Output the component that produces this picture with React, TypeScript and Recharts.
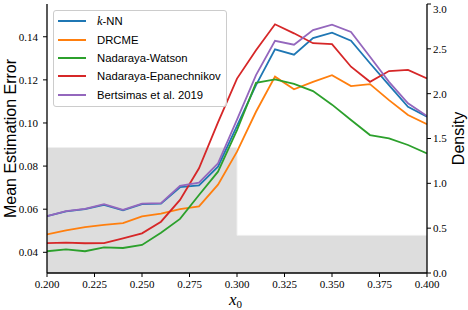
import { ComposedChart, Line, Area, XAxis, YAxis, Legend } from 'recharts'

const X0 = [0.2, 0.21, 0.22, 0.23, 0.24, 0.25, 0.26, 0.27, 0.28, 0.29, 0.3, 0.31, 0.32, 0.33, 0.34, 0.35, 0.36, 0.37, 0.38, 0.39, 0.4]
const KNN = [0.0568, 0.059, 0.06, 0.062, 0.0595, 0.0624, 0.0626, 0.0702, 0.071, 0.0797, 0.0987, 0.1176, 0.1342, 0.1317, 0.1394, 0.1419, 0.1382, 0.1277, 0.1176, 0.1075, 0.1029]
const DRCME = [0.0483, 0.0502, 0.0517, 0.0527, 0.0535, 0.0567, 0.0579, 0.06, 0.0613, 0.0714, 0.0867, 0.1052, 0.1215, 0.1156, 0.1191, 0.1222, 0.1171, 0.118, 0.1106, 0.1037, 0.0994]
const NW = [0.0405, 0.0414, 0.0405, 0.0423, 0.042, 0.0434, 0.0491, 0.0555, 0.0666, 0.0774, 0.0967, 0.1186, 0.1202, 0.1181, 0.1148, 0.1085, 0.1014, 0.0944, 0.0929, 0.0898, 0.0859]
const NE = [0.0443, 0.0445, 0.0442, 0.0443, 0.0465, 0.0488, 0.0542, 0.0643, 0.079, 0.1003, 0.1206, 0.1337, 0.1458, 0.1416, 0.137, 0.1366, 0.1261, 0.1191, 0.1241, 0.1246, 0.1207]
const BERTSIMAS = [0.0568, 0.0591, 0.0601, 0.0623, 0.0597, 0.0626, 0.0628, 0.0708, 0.0723, 0.0813, 0.1016, 0.1222, 0.1381, 0.1363, 0.1431, 0.1456, 0.1422, 0.1307, 0.1191, 0.1091, 0.1032]
const DENSITY = [1.4, 1.4, 1.4, 1.4, 1.4, 1.4, 1.4, 1.4, 1.4, 1.4, 0.42, 0.42, 0.42, 0.42, 0.42, 0.42, 0.42, 0.42, 0.42, 0.42, 0.42]

const X_TICKS = [0.2, 0.225, 0.25, 0.275, 0.3, 0.325, 0.35, 0.375, 0.4]
const Y_TICKS = [0.04, 0.06, 0.08, 0.1, 0.12, 0.14]
const D_TICKS = [0, 0.5, 1, 1.5, 2, 2.5, 3]

const SERIES = [
  { key: 'knn', name: 'k-NN', color: '#1f77b4', values: KNN },
  { key: 'drcme', name: 'DRCME', color: '#ff7f0e', values: DRCME },
  { key: 'nw', name: 'Nadaraya-Watson', color: '#2ca02c', values: NW },
  { key: 'ne', name: 'Nadaraya-Epanechnikov', color: '#d62728', values: NE },
  { key: 'bert', name: 'Bertsimas et al. 2019', color: '#9467bd', values: BERTSIMAS },
]

const data = X0.map((x, i) => {
  const row: Record<string, number> = { x, density: DENSITY[i] }
  SERIES.forEach(s => { row[s.key] = s.values[i] })
  return row
})

const serif = 'Liberation Serif'
const sans = 'Liberation Sans'

// tick renderer so the serif font is applied for sure
const makeTick = (anchor: 'middle' | 'start' | 'end', digits: number, dy: string) => (p: any) => (
  <text x={p.x} y={p.y} dy={dy} textAnchor={anchor} fontFamily={serif} fontSize={11} fill="#000">
    {Number(p.payload.value).toFixed(digits)}
  </text>
)

function LegendBox() {
  return (
    <div style={{ width: 172, height: 94, border: '1px solid #cccccc', borderRadius: 3, background: 'rgba(255,255,255,0.8)', paddingTop: 1, boxSizing: 'content-box' }}>
      {SERIES.map(s => (
        <div key={s.key} style={{ display: 'flex', alignItems: 'center', height: 18.4, fontFamily: sans, fontSize: 11.3, color: '#000' }}>
          <span style={{ width: 28, height: 2, background: s.color, marginLeft: 4, marginRight: 11 }} />
          {s.key === 'knn'
            ? <span><span style={{ fontFamily: serif, fontStyle: 'italic', fontSize: 12.5 }}>k</span>-NN</span>
            : <span>{s.name}</span>}
        </div>
      ))}
    </div>
  )
}

export default function App() {
  return (
    <div style={{ position: 'absolute', left: 0, top: 0, width: 468, height: 310, background: '#fff' }}>
      <ComposedChart width={468} height={310} data={data} margin={{ top: 4, right: 0, bottom: 0, left: 0 }}>
        <XAxis dataKey="x" type="number" domain={[0.2, 0.4]} ticks={X_TICKS} allowDataOverflow
          tick={makeTick('middle', 3, '0.71em')} height={37}
          axisLine={{ stroke: '#000', strokeWidth: 1.3 }} tickLine={{ stroke: '#000' }} tickSize={4} tickMargin={3}
          label={{ content: () => (
            <text x={229} y={305} fontFamily={serif} fontStyle="italic" fontSize={17} fill="#000">
              x<tspan fontStyle="normal" fontSize={11} dy={3}>0</tspan>
            </text>
          ) }} />
        <XAxis xAxisId="top" orientation="top" dataKey="x" type="number" domain={[0.2, 0.4]} height={0}
          tick={false} tickLine={false} axisLine={{ stroke: '#000', strokeWidth: 1.3 }} />
        <YAxis yAxisId="left" domain={[0.0304, 0.1552]} ticks={Y_TICKS} allowDataOverflow width={47}
          tick={makeTick('end', 2, '0.355em')}
          axisLine={{ stroke: '#000', strokeWidth: 1.3 }} tickLine={{ stroke: '#000' }} tickSize={4} tickMargin={5}
          label={{ content: () => (
            <text x={0} y={0} transform="translate(16,138.5) rotate(-90)" textAnchor="middle" fontFamily={sans} fontSize={16} fill="#000">Mean Estimation Error</text>
          ) }} />
        <YAxis yAxisId="right" orientation="right" domain={[0, 3]} ticks={D_TICKS} allowDataOverflow width={41}
          tick={makeTick('start', 1, '0.355em')}
          axisLine={{ stroke: '#000', strokeWidth: 1.3 }} tickLine={{ stroke: '#000' }} tickSize={4} tickMargin={2}
          label={{ content: () => (
            <text x={0} y={0} transform="translate(464,138.5) rotate(-90)" textAnchor="middle" fontFamily={sans} fontSize={16} fill="#000">Density</text>
          ) }} />
        <Area yAxisId="right" dataKey="density" type="stepAfter" fill="#dddddd" fillOpacity={1}
          stroke="#efefef" strokeWidth={1} isAnimationActive={false} legendType="none" />
        {SERIES.map(s => (
          <Line key={s.key} yAxisId="left" dataKey={s.key} name={s.name} stroke={s.color} strokeWidth={1.8}
            dot={false} type="linear" isAnimationActive={false} />
        ))}
        <Legend layout="vertical" align="center" verticalAlign="middle" content={() => <LegendBox />}
          wrapperStyle={{ position: 'absolute', left: 53, top: 10, width: 'auto', height: 'auto' }} />
      </ComposedChart>
    </div>
  )
}
